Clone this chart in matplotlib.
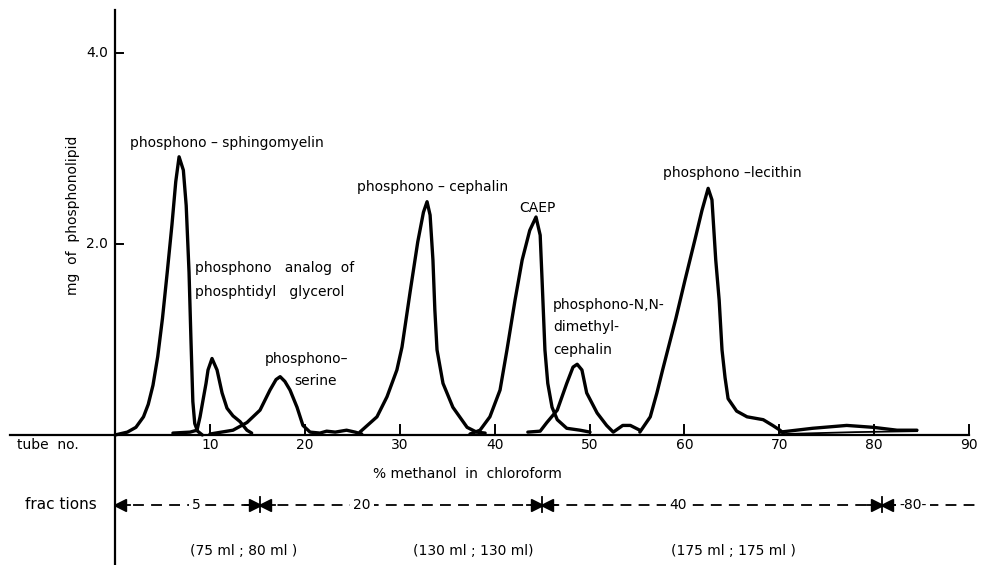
import matplotlib.pyplot as plt

# tube number / mg of phosphonolipid
sphingo_x = [0, 1.3, 2.2, 3.0, 3.5, 4.0, 4.5, 5.0, 5.5, 6.0, 6.4, 6.75, 7.2, 7.5, 7.8, 8.0, 8.2, 8.4, 8.7, 9.2]
sphingo_y = [0.0, 0.03, 0.08, 0.19, 0.32, 0.52, 0.82, 1.22, 1.7, 2.2, 2.65, 2.91, 2.77, 2.4, 1.7, 1.0, 0.35, 0.12, 0.04, 0.0]

glycerol_x = [6.1, 7.9, 8.64, 8.96, 9.3, 9.59, 9.8, 10.22, 10.75, 11.28, 11.8, 12.43, 13.17, 13.9, 14.4]
glycerol_y = [0.02, 0.03, 0.05, 0.19, 0.38, 0.54, 0.68, 0.8, 0.68, 0.44, 0.28, 0.2, 0.14, 0.05, 0.02]

serine_x = [10.0, 12.43, 13.9, 15.28, 16.33, 16.97, 17.4, 17.9, 18.44, 19.18, 19.8, 20.55,
            21.6, 22.3, 23.2, 24.4, 25.3, 26.0]
serine_y = [0.01, 0.05, 0.13, 0.26, 0.47, 0.58, 0.61, 0.56, 0.47, 0.29, 0.1, 0.03,
            0.02, 0.04, 0.03, 0.05, 0.03, 0.01]

cephalin_x = [25.8, 27.6, 28.66, 29.7, 30.24, 31.1, 31.9, 32.5, 32.88, 33.2, 33.5, 33.7,
              33.93, 34.56, 35.6, 37.1, 38.1, 39.0]
cephalin_y = [0.03, 0.19, 0.4, 0.68, 0.92, 1.5, 2.02, 2.33, 2.44, 2.3, 1.83, 1.31,
              0.89, 0.54, 0.29, 0.08, 0.03, 0.02]

caep_x = [37.4, 38.46, 39.5, 40.57, 41.3, 42.15, 42.9, 43.7, 44.36, 44.8, 45.0, 45.3,
          45.6, 46.05, 46.6, 47.6, 49.0, 50.05]
caep_y = [0.01, 0.05, 0.19, 0.47, 0.89, 1.41, 1.83, 2.14, 2.28, 2.09, 1.62, 0.89,
          0.54, 0.29, 0.16, 0.07, 0.05, 0.03]

dimethyl_x = [43.5, 44.8, 45.5, 46.6, 47.6, 48.26, 48.7, 49.2, 49.7, 50.8, 51.8, 52.5,
              53.5, 54.3, 55.3]
dimethyl_y = [0.03, 0.04, 0.13, 0.26, 0.54, 0.71, 0.74, 0.68, 0.44, 0.23, 0.1, 0.03,
              0.1, 0.1, 0.05]

lecithin_x = [55.3, 56.4, 57.1, 57.7, 58.4, 59.1, 60.06, 61.1, 61.85, 62.5, 62.9, 63.3,
              63.66, 63.96, 64.28, 64.6, 65.5, 66.6, 68.3, 69.3, 70.07, 70.4]
lecithin_y = [0.03, 0.19, 0.44, 0.68, 0.95, 1.22, 1.62, 2.04, 2.35, 2.58, 2.46, 1.83,
              1.41, 0.89, 0.6, 0.38, 0.25, 0.19, 0.16, 0.1, 0.05, 0.02]

tail_x = [70.07, 73.5, 77.1, 79.9, 82.4, 84.5]
tail_y = [0.03, 0.07, 0.1, 0.08, 0.05, 0.05]
tail_low_x = [70.5, 78.0, 84.5]
tail_low_y = [0.01, 0.03, 0.04]

x_ticks = [10, 20, 30, 40, 50, 60, 70, 80, 90]
y_ticks = [2.0, 4.0]

# fraction sizes and where each one starts/ends (tube no.)
fraction_edges = [0, 15.3, 45.0, 80.8, 91.3]
fraction_labels = ['5', '20', '40', '-80-']
fraction_label_x = [8.6, 26.0, 59.3, 84.1]
volume_labels = ['(75 ml ; 80 ml )', '(130 ml ; 130 ml)', '(175 ml ; 175 ml )']
volume_x = [13.5, 37.8, 65.2]

fig = plt.figure(figsize=(9.81, 5.65), dpi=100)
ax = fig.add_axes([0, 0, 1, 1])
ax.set_xlim(-12.12, 91.25)
ax.set_ylim(-1.36, 4.55)
ax.axis('off')

fs = 10
curve = dict(color='black', lw=2.4, solid_joinstyle='round', solid_capstyle='round')
for xs, ys in [(sphingo_x, sphingo_y), (glycerol_x, glycerol_y), (serine_x, serine_y),
               (cephalin_x, cephalin_y), (caep_x, caep_y), (dimethyl_x, dimethyl_y),
               (lecithin_x, lecithin_y), (tail_x, tail_y)]:
    ax.plot(xs, ys, **curve)
ax.plot(tail_low_x, tail_low_y, color='black', lw=1.3)

# axes drawn by hand, like the original figure
ax.plot([-11.06, 90.0], [0, 0], color='black', lw=1.6)
ax.plot([0, 0], [-1.36, 4.45], color='black', lw=1.6)
for t in x_ticks:
    ax.plot([t, t], [0, 0.1], color='black', lw=1.4)
    ax.text(t, -0.11, str(t), ha='center', va='center', fontsize=fs)
for t in y_ticks:
    ax.plot([0, 0.85], [t, t], color='black', lw=1.4)
    ax.text(-0.74, t, f'{t:.1f}', ha='right', va='center', fontsize=fs)

ax.text(-4.43, 2.3, 'mg  of  phosphonolipid', rotation=90, ha='center', va='center', fontsize=fs)
ax.text(-10.3, -0.11, 'tube  no.', ha='left', va='center', fontsize=fs)
ax.text(27.2, -0.41, '% methanol  in  chloroform', ha='left', va='center', fontsize=fs)
ax.text(-9.5, -0.73, 'frac tions', ha='left', va='center', fontsize=11)

# peak labels
ax.text(1.58, 3.05, 'phosphono – sphingomyelin', ha='left', va='center', fontsize=fs)
ax.text(8.43, 1.75, 'phosphono   analog  of', ha='left', va='center', fontsize=fs)
ax.text(8.43, 1.50, 'phosphtidyl   glycerol', ha='left', va='center', fontsize=fs)
ax.text(15.8, 0.79, 'phosphono–', ha='left', va='center', fontsize=fs)
ax.text(18.9, 0.56, 'serine', ha='left', va='center', fontsize=fs)
ax.text(25.5, 2.59, 'phosphono – cephalin', ha='left', va='center', fontsize=fs)
ax.text(42.6, 2.37, 'CAEP', ha='left', va='center', fontsize=fs)
ax.text(46.15, 1.36, 'phosphono-N,N-', ha='left', va='center', fontsize=fs)
ax.text(46.15, 1.13, 'dimethyl-', ha='left', va='center', fontsize=fs)
ax.text(46.15, 0.89, 'cephalin', ha='left', va='center', fontsize=fs)
ax.text(57.7, 2.74, 'phosphono –lecithin', ha='left', va='center', fontsize=fs)

# fraction bands
fy = -0.73
ax.plot([fraction_edges[0], fraction_edges[-1]], [fy, fy], color='black', lw=1.3,
        linestyle=(0, (6, 4)))
for i in range(len(fraction_labels)):
    lo, hi = fraction_edges[i], fraction_edges[i + 1]
    ax.plot([lo, lo + 1.6], [fy, fy], color='black', lw=1.3)
    ax.plot(lo + 0.55, fy, marker='<', color='black', markersize=8)
    if i < len(fraction_labels) - 1:
        ax.plot([hi - 1.6, hi], [fy, fy], color='black', lw=1.3)
        ax.plot(hi - 0.55, fy, marker='>', color='black', markersize=8)
        ax.plot([hi, hi], [fy - 0.08, fy + 0.08], color='black', lw=1.3)
    ax.text(fraction_label_x[i], fy, fraction_labels[i], ha='center', va='center', fontsize=fs,
            bbox=dict(facecolor='white', edgecolor='none', pad=2.5))

for lab, xv in zip(volume_labels, volume_x):
    ax.text(xv, -1.21, lab, ha='center', va='center', fontsize=fs)

fig.savefig('out.png', dpi=100)
